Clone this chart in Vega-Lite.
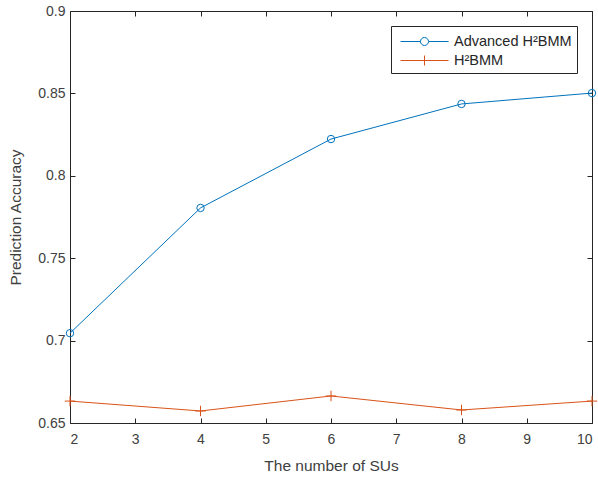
{
  "$schema": "https://vega.github.io/schema/vega-lite/v6.json",
  "width": 522,
  "height": 412,
  "autosize": {"type": "none"},
  "padding": {"left": 70, "top": 11, "right": 6, "bottom": 54},
  "background": "white",
  "config": {
    "view": {"stroke": "#262626", "strokeWidth": 1},
    "font": "Liberation Sans",
    "axis": {
      "grid": false,
      "domain": false,
      "tickColor": "#262626",
      "tickSize": -5,
      "labelColor": "#404040",
      "labelFontSize": 14,
      "titleColor": "#404040",
      "titleFontSize": 15.5,
      "titleFontWeight": "normal",
      "labelFont": "Liberation Sans",
      "titleFont": "Liberation Sans"
    }
  },
  "data": {
    "values": [
      {"n": 2, "acc": 0.7045, "series": "Advanced H²BMM"},
      {"n": 4, "acc": 0.7805, "series": "Advanced H²BMM"},
      {"n": 6, "acc": 0.8223, "series": "Advanced H²BMM"},
      {"n": 8, "acc": 0.8436, "series": "Advanced H²BMM"},
      {"n": 10, "acc": 0.8502, "series": "Advanced H²BMM"},
      {"n": 2, "acc": 0.6633, "series": "H²BMM"},
      {"n": 4, "acc": 0.6573, "series": "H²BMM"},
      {"n": 6, "acc": 0.6664, "series": "H²BMM"},
      {"n": 8, "acc": 0.6579, "series": "H²BMM"},
      {"n": 10, "acc": 0.6633, "series": "H²BMM"}
    ]
  },
  "resolve": {"axis": {"x": "independent", "y": "independent"}},
  "layer": [
    {
      "mark": {"type": "line", "strokeWidth": 1},
      "encoding": {
        "x": {
          "field": "n", "type": "quantitative",
          "scale": {"domain": [2, 10], "nice": false, "zero": false},
          "axis": {"title": "The number of SUs", "values": [2,3,4,5,6,7,8,9,10], "labelPadding": 14, "titlePadding": 12}
        },
        "y": {
          "field": "acc", "type": "quantitative",
          "scale": {"domain": [0.65, 0.9], "nice": false, "zero": false},
          "axis": {"title": "Prediction Accuracy", "values": [0.65,0.7,0.75,0.8,0.85,0.9], "format": "~g", "labelPadding": 10, "titlePadding": 14}
        },
        "color": {
          "field": "series", "type": "nominal",
          "scale": {"domain": ["Advanced H²BMM", "H²BMM"], "range": ["#0072BD", "#D95319"]},
          "legend": {
            "title": null,
            "orient": "none",
            "legendX": 321,
            "legendY": 15,
            "strokeColor": "#262626",
            "fillColor": "white",
            "padding": 5,
            "labelFontSize": 14.5,
            "labelColor": "#262626",
            "labelFont": "Liberation Sans",
            "symbolSize": 400,
            "symbolOffset": 18,
            "symbolStrokeWidth": 1,
            "symbolType": "stroke",
            "rowPadding": 2,
            "labelOffset": 19,
            "encode": {
              "symbols": {
                "update": {
                  "shape": {"signal": "datum.label == 'H²BMM' ? 'M-2.4,0H2.4M0,-0.5V0.5' : 'M-2.4,0H-0.4M0.4,0H2.4M-0.4,0A0.4,0.4 0 1,0 0.4,0A0.4,0.4 0 1,0 -0.4,0'"},
                  "fill": {"value": "transparent"}
                }
              }
            }
          }
        }
      }
    },
    {
      "transform": [{"filter": "datum.series == 'Advanced H²BMM'"}],
      "mark": {"type": "point", "shape": "circle", "filled": false, "strokeWidth": 1, "opacity": 1, "size": 55},
      "encoding": {
        "x": {"field": "n", "type": "quantitative", "axis": {"orient": "top", "labels": false, "title": null, "values": [2,3,4,5,6,7,8,9,10]}},
        "y": {"field": "acc", "type": "quantitative", "axis": {"orient": "right", "labels": false, "title": null, "values": [0.65,0.7,0.75,0.8,0.85,0.9]}},
        "color": {"field": "series", "type": "nominal", "legend": null}
      }
    },
    {
      "transform": [{"filter": "datum.series == 'H²BMM'"}],
      "mark": {"type": "point", "shape": "M-1,0H1M0,-1V1", "filled": false, "strokeWidth": 1, "opacity": 1, "size": 110},
      "encoding": {
        "x": {"field": "n", "type": "quantitative", "axis": null},
        "y": {"field": "acc", "type": "quantitative", "axis": null},
        "color": {"field": "series", "type": "nominal", "legend": null}
      }
    }
  ]
}
